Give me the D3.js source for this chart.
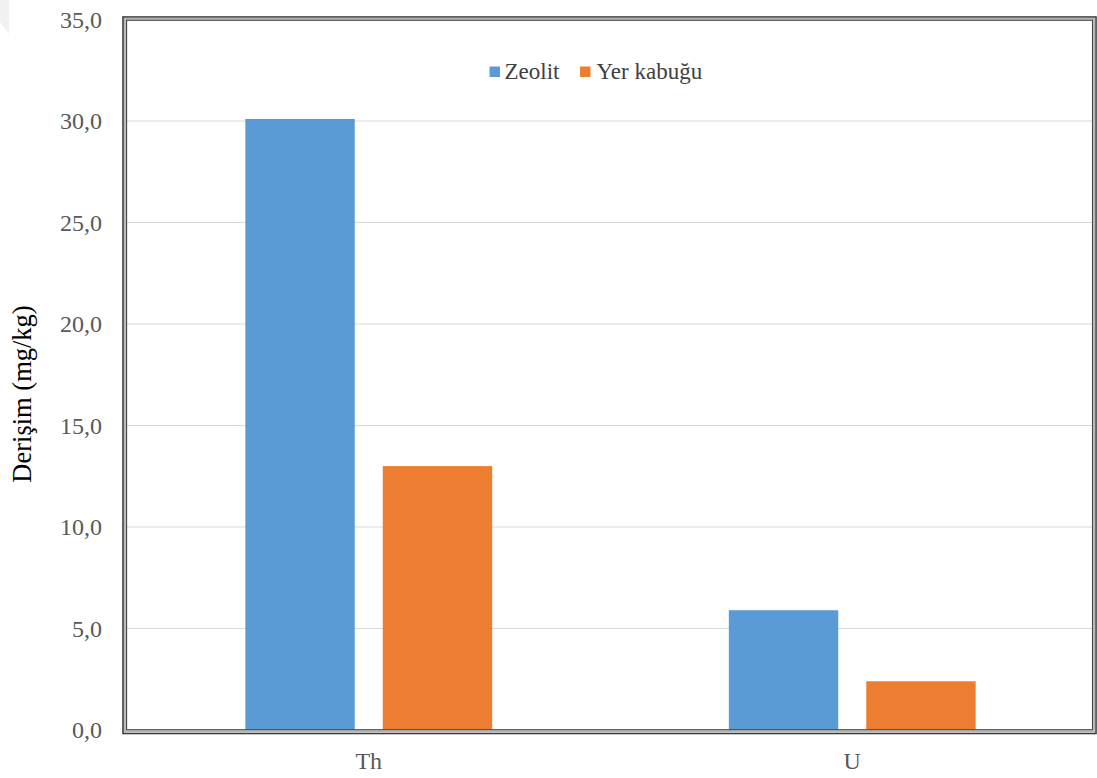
<!DOCTYPE html>
<html>
<head>
<meta charset="utf-8">
<script src="https://cdn.jsdelivr.net/npm/d3@7"></script>
<style>
  html, body { margin: 0; padding: 0; background: #fff; }
  svg { display: block; }
</style>
</head>
<body>
<svg id="chart" width="1097" height="778"></svg>
<script>
// Element concentrations (mg/kg)
const categories = ["Th", "U"];
const seriesNames = ["Zeolit", "Yer kabuğu"];
const zeolitValues = [30.1, 5.9];
const crustValues = [13.0, 2.4];
const yTicks = [0, 5, 10, 15, 20, 25, 30, 35];
const yTitle = "Derişim (mg/kg)";
const colors = ["#5b9bd5", "#ed7d31"];

const SERIF = "'Liberation Serif', 'Times New Roman', Times, serif";
const svg = d3.select("#chart");
const plot = { left: 127, right: 1094, top: 19.5, bottom: 730 };

// faint corner shading at the top-left
svg.append("polygon")
  .attr("points", "0,0 9,0 9,34 0,22")
  .attr("fill", "#f1f1f1");

const x0 = d3.scaleBand().domain(categories).range([plot.left, plot.right]).padding(0);
const x1 = d3.scaleBand().domain(seriesNames).range([0, x0.bandwidth()])
  .paddingInner(0.204).paddingOuter(0.861);
const y = d3.scaleLinear().domain([0, 35]).range([plot.bottom, plot.top]);

// horizontal gridlines
svg.append("g")
  .selectAll("line")
  .data(yTicks.filter(t => t > 0 && t < 35))
  .join("line")
  .attr("x1", plot.left).attr("x2", 1092.6)
  .attr("y1", d => y(d)).attr("y2", d => y(d))
  .attr("stroke", "#d9d9d9").attr("stroke-width", 1.2);

// bars
const rows = categories.map((c, i) => ({ cat: c, vals: [zeolitValues[i], crustValues[i]] }));
svg.append("g")
  .selectAll("g")
  .data(rows)
  .join("g")
  .attr("transform", d => `translate(${x0(d.cat)},0)`)
  .selectAll("rect")
  .data(d => d.vals.map((v, j) => ({ s: seriesNames[j], v, j })))
  .join("rect")
  .attr("x", d => x1(d.s))
  .attr("width", x1.bandwidth())
  .attr("y", d => y(d.v))
  .attr("height", d => y(0) - y(d.v))
  .attr("fill", d => colors[d.j]);

// double frame around the plot area
const frame = svg.append("g").attr("fill", "none");
frame.append("rect")
  .attr("x", 123).attr("y", 17).attr("width", 1096 - 123).attr("height", 733.5 - 17)
  .attr("stroke", "#3c3c3c").attr("stroke-width", 1.6);
frame.append("rect")
  .attr("x", 124.8).attr("y", 18.6).attr("width", 1094.4 - 124.8).attr("height", 731.6 - 18.6)
  .attr("stroke", "#b5b5b5").attr("stroke-width", 1.6);
frame.append("rect")
  .attr("x", 126.5).attr("y", 20.2).attr("width", 1092.6 - 126.5).attr("height", 729.8 - 20.2)
  .attr("stroke", "#4a4a4a").attr("stroke-width", 1.3);

// y axis labels
const yAxis = d3.axisLeft(y).tickValues(yTicks)
  .tickFormat(d => d3.format(".1f")(d).replace(".", ","))
  .tickSize(0).tickPadding(0);
const ya = svg.append("g").attr("transform", "translate(102,0)").call(yAxis);
ya.select(".domain").remove();
ya.selectAll("text")
  .style("font-family", SERIF)
  .style("font-size", "24px").attr("fill", "#595959");

// x axis labels
const xAxis = d3.axisBottom(x0).tickSize(0).tickPadding(0);
const xa = svg.append("g").attr("transform", "translate(0,751)").call(xAxis);
xa.select(".domain").remove();
xa.selectAll("text")
  .style("font-family", SERIF)
  .style("font-size", "24px").attr("fill", "#595959").attr("dy", "0.75em");

// y axis title
svg.append("text")
  .attr("transform", "translate(31,394) rotate(-90)")
  .attr("text-anchor", "middle")
  .style("font-family", SERIF)
  .style("font-size", "26.5px").attr("fill", "#000")
  .text(yTitle);

// legend
const legend = svg.append("g");
const legendItems = [
  { name: seriesNames[0], color: colors[0], sx: 489.5, tx: 504.5 },
  { name: seriesNames[1], color: colors[1], sx: 580, tx: 596.5 }
];
legendItems.forEach(it => {
  legend.append("rect")
    .attr("x", it.sx).attr("y", 66.5).attr("width", 10.5).attr("height", 10.5)
    .attr("fill", it.color);
  legend.append("text")
    .attr("x", it.tx).attr("y", 78.5)
    .style("font-family", SERIF)
    .style("font-size", "23px").attr("fill", "#404040")
    .text(it.name);
});
</script>
</body>
</html>
